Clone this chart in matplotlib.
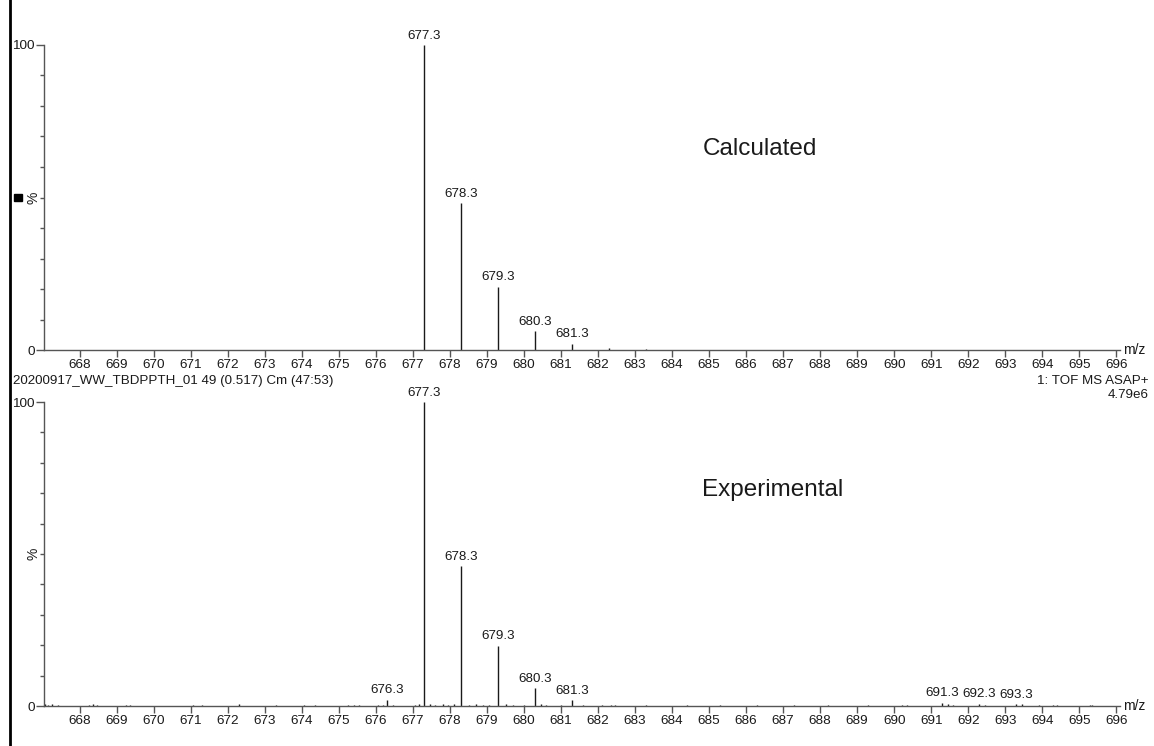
import matplotlib
matplotlib.use("Agg")
import matplotlib.pyplot as plt
from matplotlib.ticker import MultipleLocator, FixedLocator

plt.rcParams['font.family'] = ['Liberation Sans', 'DejaVu Sans']

# Calculated isotope pattern (m/z, relative intensity %)
calc_mz = [677.3, 678.3, 679.3, 680.3, 681.3, 682.3, 683.3]
calc_int = [100.0, 48.2, 20.8, 6.2, 2.0, 0.5, 0.3]
calc_labels = ["677.3", "678.3", "679.3", "680.3", "681.3", "", ""]

# Experimental spectrum, labelled peaks
exp_mz = [676.3, 677.3, 678.3, 679.3, 680.3, 681.3, 691.3, 692.3, 693.3]
exp_int = [2.0, 100.0, 46.0, 19.8, 5.9, 1.9, 1.1, 0.7, 0.5]
exp_labels = ["676.3", "677.3", "678.3", "679.3", "680.3", "681.3", "691.3", "692.3", "693.3"]

# Experimental baseline signals
noise_mz = [667.05, 667.15, 667.25, 667.4, 668.25, 668.35, 668.45, 669.25, 669.35,
            671.05, 671.3, 672.3, 673.3, 674.05, 674.35, 675.25, 675.4, 675.55,
            676.05, 676.2, 676.45, 677.05, 677.15, 677.45, 677.6, 677.8, 677.95,
            678.1, 678.5, 678.7, 678.9, 679.05, 679.5, 679.7, 680.0, 680.45,
            680.6, 681.0, 681.6, 682.1, 682.35, 682.45, 683.3, 684.4, 685.3,
            686.3, 687.3, 688.2, 689.3, 690.2, 690.35, 691.45, 691.6, 692.45,
            693.45, 693.9, 694.3, 694.4, 695.3, 695.35]
noise_int = [0.6, 0.4, 0.5, 0.3, 0.4, 0.5, 0.3, 0.4, 0.3,
             0.4, 0.3, 0.5, 0.4, 0.3, 0.3, 0.3, 0.4, 0.3,
             0.3, 0.4, 0.3, 0.4, 0.5, 0.6, 0.4, 0.5, 0.4,
             0.5, 0.4, 0.5, 0.3, 0.4, 0.5, 0.3, 0.4, 0.8,
             0.4, 0.3, 0.3, 0.3, 0.4, 0.3, 0.3, 0.3, 0.3,
             0.3, 0.3, 0.3, 0.3, 0.4, 0.3, 0.6, 0.4, 0.4,
             0.5, 0.3, 0.4, 0.4, 0.4, 0.3]

x_ticks = list(range(668, 697))
xlim = (667.03, 696.1)

ink = "#1a1a1a"
spine = "#555555"

fig = plt.figure(figsize=(11.54, 7.46), dpi=100)
ax_top = fig.add_axes([0.0381, 0.5308, 0.9324, 0.4089])
ax_bot = fig.add_axes([0.0381, 0.0536, 0.9324, 0.4075])


def style(ax):
    ax.set_xlim(*xlim)
    ax.set_ylim(0, 100)
    for s in ("top", "right"):
        ax.spines[s].set_visible(False)
    for s in ("left", "bottom"):
        ax.spines[s].set_color(spine)
        ax.spines[s].set_linewidth(1.0)
    ax.xaxis.set_major_locator(FixedLocator(x_ticks))
    ax.set_xticklabels([str(t) for t in x_ticks])
    ax.yaxis.set_major_locator(FixedLocator([0, 100]))
    ax.yaxis.set_minor_locator(MultipleLocator(10))
    ax.set_yticklabels(["0", "100"])
    ax.tick_params(axis="x", direction="out", length=5, width=1, color=spine,
                   labelsize=9.7, labelcolor=ink, pad=1.5)
    ax.tick_params(axis="y", which="major", direction="out", length=6, width=1,
                   color=spine, labelsize=9.7, labelcolor=ink, pad=0.5)
    ax.tick_params(axis="y", which="minor", direction="out", length=3, width=1,
                   color=spine)
    ax.text(-0.0035, 0.5, "%", rotation=90, transform=ax.transAxes,
            ha="right", va="center", fontsize=10, color=ink)
    ax.text(1.003, 0.0, "m/z", transform=ax.transAxes, ha="left",
            va="center", fontsize=10, color=ink)


style(ax_top)
style(ax_bot)

# Calculated pattern
ax_top.vlines(calc_mz, 0, calc_int, color=ink, linewidth=1.0)
for x, y, lab in zip(calc_mz, calc_int, calc_labels):
    if lab:
        ax_top.annotate(lab, (x, y), xytext=(0, 2.5), textcoords="offset points",
                        ha="center", va="bottom", fontsize=9.6, color=ink,
                        annotation_clip=False)
ax_top.text(0.612, 0.66, "Calculated", transform=ax_top.transAxes,
            fontsize=17.5, color=ink, ha="left", va="center")

# Experimental spectrum
ax_bot.vlines(noise_mz, 0, noise_int, color=ink, linewidth=1.0)
ax_bot.vlines(exp_mz, 0, exp_int, color=ink, linewidth=1.0)
for x, y, lab in zip(exp_mz, exp_int, exp_labels):
    ax_bot.annotate(lab, (x, y), xytext=(0, 2.5), textcoords="offset points",
                    ha="center", va="bottom", fontsize=9.6, color=ink,
                    annotation_clip=False)
ax_bot.text(0.612, 0.71, "Experimental", transform=ax_bot.transAxes,
            fontsize=17.5, color=ink, ha="left", va="center")

# Header line between the panels
fig.text(0.0113, 0.489, "20200917_WW_TBDPPTH_01 49 (0.517) Cm (47:53)",
         fontsize=9.6, color=ink, ha="left", va="center")
fig.text(0.995, 0.489, "1: TOF MS ASAP+", fontsize=9.6, color=ink,
         ha="right", va="center")
fig.text(0.995, 0.471, "4.79e6", fontsize=9.6, color=ink,
         ha="right", va="center")

# Frame line on the left edge and panel marker
fig.add_artist(plt.Line2D([0.0087, 0.0087], [0.0, 1.0], transform=fig.transFigure,
                          color="black", linewidth=2.0))
fig.add_artist(plt.Rectangle((0.0125, 0.730), 0.0065, 0.0105,
                             transform=fig.transFigure, color="black"))

fig.savefig("out.png", dpi=100, facecolor="white")
